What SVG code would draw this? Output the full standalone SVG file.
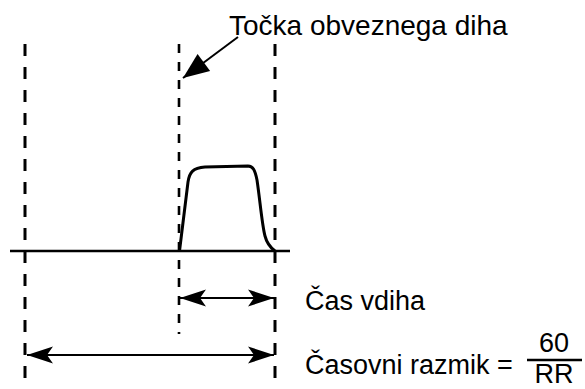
<svg xmlns="http://www.w3.org/2000/svg" width="585" height="389" viewBox="0 0 585 389">
<style>
.dash{stroke:#000;stroke-width:3;fill:none;stroke-dasharray:12 11}
.dashm{stroke:#000;stroke-width:2.6;fill:none;stroke-dasharray:9 9}
.ln{stroke:#000;stroke-width:2;fill:none}
.wave{stroke:#000;stroke-width:3;fill:none;stroke-linejoin:round}
text{font-family:"Liberation Sans",Arial,sans-serif;font-size:27px;fill:#000}
</style>
<defs>
<marker id="ah" markerUnits="userSpaceOnUse" markerWidth="28" markerHeight="20" viewBox="-27 -10 28 20" refX="0" refY="0" orient="auto-start-reverse">
<path d="M0,0 L-26,-8.5 L-20,0 L-26,8.5 Z" fill="#000"/>
</marker>
<marker id="ah2" markerUnits="userSpaceOnUse" markerWidth="28" markerHeight="24" viewBox="-27 -12 28 24" refX="0" refY="0" orient="auto">
<path d="M0,0 L-26,-10.5 L-26,10.5 Z" fill="#000"/>
</marker>
</defs>
<g id="grid">
<line class="dash" x1="25" y1="44" x2="25" y2="381"/>
<line class="dashm" x1="179" y1="44" x2="179" y2="334"/>
<line class="dash" x1="275" y1="44" x2="275" y2="381"/>
<line class="ln" x1="10" y1="251" x2="290" y2="251" style="stroke-width:2.5"/>
</g>
<g id="waveform">
<path class="wave" d="M179.5,251 L188,182 C189.5,172 193,168 205,167 L248,166 C253,166 255,170 257,180 C260,200 262,225 265,236 C267,244 271,248 275,251"/>
</g>
<g id="connectors">
<line class="ln" x1="238" y1="37" x2="183" y2="78" marker-end="url(#ah2)"/>
<line class="ln" x1="180" y1="298" x2="274" y2="298" marker-start="url(#ah)" marker-end="url(#ah)"/>
<line class="ln" x1="27" y1="355" x2="274" y2="355" marker-start="url(#ah)" marker-end="url(#ah)"/>
</g>
<g id="label-tocka"><text x="229" y="35" style="font-size:28px">Točka obveznega diha</text></g>
<g id="label-cas"><text x="305" y="310">Čas vdiha</text></g>
<g id="label-razmik">
<text x="305" y="374">Časovni razmik =</text>
<text x="554" y="352" text-anchor="middle">60</text>
<line x1="527" y1="360" x2="582" y2="360" stroke="#000" stroke-width="2.5"/>
<text x="554" y="383" text-anchor="middle">RR</text>
</g>
</svg>
